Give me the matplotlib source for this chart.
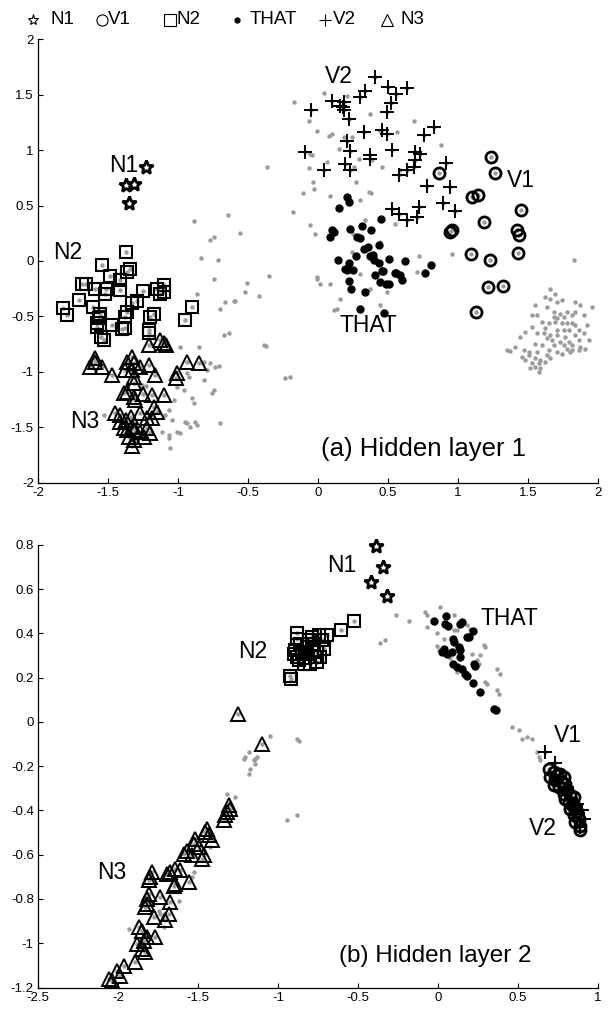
import matplotlib
matplotlib.use("Agg")
import matplotlib.pyplot as plt
from matplotlib.lines import Line2D

plt.rcParams['font.family'] = ['Liberation Sans', 'DejaVu Sans']
plt.rcParams['axes.unicode_minus'] = False

# ---------------- data : hidden layer 1 ----------------
n1_1_x = [-1.226, -1.369, -1.317, -1.353]
n1_1_y = [0.847, 0.682, 0.691, 0.526]

v1_1_x = [1.236, 1.266, 0.861, 1.100, 1.140, 1.450, 1.188, 0.945, 0.955, 1.421, 1.433,
          1.093, 1.231, 1.426, 1.211, 1.319, 1.129]
v1_1_y = [0.937, 0.793, 0.793, 0.577, 0.592, 0.463, 0.351, 0.261, 0.280, 0.277, 0.232,
          0.060, 0.012, 0.075, -0.234, -0.228, -0.459]

n2_1_x = [-1.371, -1.543, -1.341, -1.364, -1.489, -1.686, -1.655, -1.412, -1.591, -1.512,
          -1.524, -1.412, -1.250, -1.150, -1.103, -1.126, -1.103, -1.705, -1.824, -1.793,
          -1.607, -1.329, -1.293, -1.364, -1.376, -1.555, -1.555, -1.567, -1.198, -1.169,
          -0.900, -0.953, -1.579, -1.579, -1.471, -1.400, -1.376, -1.210, -1.205, -1.550,
          -1.526]
n2_1_y = [0.081, -0.032, -0.068, -0.099, -0.138, -0.204, -0.210, -0.174, -0.249, -0.249,
          -0.300, -0.258, -0.273, -0.249, -0.219, -0.294, -0.279, -0.348, -0.420, -0.489,
          -0.414, -0.378, -0.363, -0.459, -0.510, -0.474, -0.505, -0.519, -0.510, -0.474,
          -0.414, -0.534, -0.594, -0.564, -0.579, -0.618, -0.609, -0.649, -0.624, -0.685,
          -0.714]

that_1_x = [0.207, 0.219, 0.147, 0.452, 0.100, 0.111, 0.088, 0.226, 0.314, 0.379,
            0.279, 0.302, 0.326, 0.354, 0.433, 0.140, 0.274, 0.393, 0.219, 0.397,
            0.438, 0.509, 0.619, 0.207, 0.250, 0.457, 0.552, 0.761, 0.807, 0.195,
            0.224, 0.238, 0.338, 0.409, 0.464, 0.488, 0.504, 0.559, 0.583, 0.600,
            0.440, 0.302, 0.469, 0.371]
that_1_y = [0.577, 0.532, 0.477, 0.382, 0.277, 0.261, 0.216, 0.292, 0.313, 0.283,
            0.216, 0.211, 0.112, 0.126, 0.141, 0.013, 0.042, 0.051, -0.018, 0.013,
            -0.018, 0.021, 0.000, -0.077, -0.084, -0.090, -0.108, -0.105, -0.033, -0.069,
            -0.183, -0.249, -0.279, -0.129, -0.093, -0.204, -0.210, -0.108, -0.123, -0.174,
            -0.189, -0.435, -0.468, 0.042]

v2_1_x = [0.409, 0.338, 0.497, 0.559, 0.636, 0.297, 0.100, 0.183, 0.160, 0.175,
          0.524, -0.048, 0.183, 0.493, 0.219, 0.326, 0.457, 0.493, 0.826, 0.754,
          0.207, -0.091, 0.226, 0.369, 0.369, 0.529, 0.695, 0.731, 0.195, 0.231,
          0.040, 0.636, 0.683, 0.576, 0.695, 0.914, 0.779, 0.940, 0.890, 0.981,
          0.529, 0.576, 0.636, 0.707, 0.719]
v2_1_y = [1.658, 1.538, 1.568, 1.508, 1.562, 1.477, 1.448, 1.432, 1.400, 1.390,
          1.423, 1.358, 1.358, 1.342, 1.283, 1.162, 1.184, 1.148, 1.207, 1.141,
          1.087, 0.982, 0.991, 0.952, 0.922, 0.997, 0.982, 0.961, 0.877, 0.817,
          0.817, 0.817, 0.847, 0.772, 0.907, 0.883, 0.673, 0.667, 0.523, 0.448,
          0.472, 0.427, 0.367, 0.397, 0.487]

n3_1_x = [-1.131, -1.103, -1.086, -1.210, -1.591, -1.591, -1.626, -1.543, -1.471, -1.364,
          -1.329, -1.317, -1.376, -1.329, -1.317, -1.269, -1.210, -1.162, -1.007, -1.014,
          -0.936, -0.853, -1.317, -1.389, -1.364, -1.317, -1.310, -1.250, -1.186, -1.103,
          -1.169, -1.150, -1.448, -1.412, -1.412, -1.369, -1.336, -1.269, -1.221, -1.186,
          -1.389, -1.364, -1.329, -1.305, -1.269, -1.221, -1.198, -1.246, -1.353, -1.317,
          -1.329]
n3_1_y = [-0.714, -0.744, -0.759, -0.759, -0.879, -0.910, -0.955, -0.955, -1.030, -0.910,
          -0.865, -0.924, -0.985, -0.985, -1.045, -0.955, -0.940, -1.030, -1.015, -1.060,
          -0.910, -0.919, -1.105, -1.195, -1.180, -1.225, -1.255, -1.201, -1.210, -1.210,
          -1.315, -1.360, -1.369, -1.390, -1.450, -1.435, -1.405, -1.375, -1.420, -1.420,
          -1.510, -1.525, -1.495, -1.525, -1.541, -1.510, -1.555, -1.586, -1.586, -1.615,
          -1.669]

# other words (grey)
grey_1_x = [1.659, 1.695, 1.623, 1.659, 1.742, 1.707, 1.837, 1.873, 1.956, 1.552,
            1.635, 1.683, 1.730, 1.778, 1.837, 1.528, 1.564, 1.683, 1.707, 1.754,
            1.814, 1.897, 1.599, 1.647, 1.695, 1.742, 1.778, 1.814, 1.837, 1.921,
            1.528, 1.623, 1.707, 1.754, 1.790, 1.861, 1.480, 1.564, 1.611, 1.659,
            1.707, 1.766, 1.837, 1.897, 1.445, 1.635, 1.671, 1.730, 1.790, 1.861,
            1.933, 1.552, 1.599, 1.683, 1.754, 1.814, 1.873, 1.409, 1.349, 1.373,
            1.468, 1.504, 1.564, 1.647, 1.707, 1.778, 1.814, 1.861, 1.909, 1.456,
            1.504, 1.552, 1.587, 1.635, 1.742, 1.802, 1.480, 1.528, 1.576, 1.623,
            1.516, 1.552, 1.587, 1.576, 1.659,
            -0.169, -0.062, -0.007, -0.055, -0.067, -0.036, -0.031, -0.107, -0.179, -0.055,
            -0.019, -0.364, -0.888, -0.645, -0.555, -0.774, -0.745, -0.833, -0.714, -0.745,
            -0.352, -0.007, 0.041, 0.207, 0.076, 0.100, 0.183, 0.243, 0.374, 0.445,
            0.564, 0.683, 0.881, -0.043, 0.148, 0.291, 0.064, 0.386, 0.255, 0.457,
            0.588, 0.274, 0.362, 0.379, 0.088, 0.302, 0.250, 0.552, 0.338, 0.957,
            1.826, 0.445, 0.243, -0.007, 0.017, 0.088, 0.160, 0.112, 0.136, 0.302,
            0.374, 0.445, 0.493, 0.707, 0.719, -0.233, -0.198,
            -0.507, -0.519, -0.424, -0.864, -0.698, -0.662, -0.602, -0.590, -0.674, -0.638,
            -0.388, -0.371, -0.983, -0.852, -1.079, -0.817, -0.769, -0.793, -0.733, -0.710,
            -0.936, -0.924, -0.817, -1.007, -0.960, -0.745, -0.757, -1.031, -0.900, -0.888,
            -1.067, -1.090, -1.043, -0.948, -0.936, -0.912, -0.876, -0.864, -0.698, -1.114,
            -1.067, -1.067, -1.007, -0.983, -1.055, -1.257, -1.230, -1.531]
grey_1_y = [-0.249, -0.294, -0.324, -0.339, -0.354, -0.369, -0.369, -0.399, -0.414, -0.399,
            -0.414, -0.459, -0.474, -0.459, -0.459, -0.489, -0.489, -0.504, -0.519, -0.504,
            -0.489, -0.489, -0.549, -0.564, -0.549, -0.564, -0.564, -0.564, -0.579, -0.579,
            -0.594, -0.609, -0.624, -0.624, -0.624, -0.624, -0.639, -0.654, -0.654, -0.669,
            -0.669, -0.684, -0.669, -0.654, -0.684, -0.699, -0.714, -0.730, -0.730, -0.714,
            -0.714, -0.745, -0.760, -0.760, -0.760, -0.760, -0.775, -0.775, -0.805, -0.811,
            -0.805, -0.820, -0.820, -0.805, -0.820, -0.790, -0.805, -0.805, -0.790, -0.865,
            -0.850, -0.880, -0.895, -0.850, -0.835, -0.820, -0.895, -0.925, -0.925, -0.910,
            -0.970, -0.961, -0.970, -1.000, -0.880,
            1.438, 1.261, 1.177, 0.961, 0.841, 0.712, 0.652, 0.613, 0.441, 0.321,
            0.240, 0.847, 0.360, 0.411, 0.252, 0.192, 0.216, 0.027, 0.012, -0.159,
            -0.138, -0.159, 1.513, 1.492, 1.132, 1.147, 1.117, 1.117, 1.327, 1.177,
            1.162, 1.261, 1.048, 0.952, 1.012, 0.922, 0.892, 0.907, 0.847, 0.847,
            0.817, 0.712, 0.622, 0.613, 0.583, 0.547, 0.246, 0.336, 0.366, 0.066,
            0.006, 0.171, 0.081, -0.144, -0.204, -0.204, -0.339, -0.444, -0.429, -0.114,
            -0.249, -0.399, -0.279, -0.099, 0.042, -1.060, -1.045,
            -0.198, -0.279, -0.315, -0.294, -0.435, -0.369, -0.360, -0.360, -0.669, -0.654,
            -0.759, -0.768, -0.774, -0.774, -0.805, -0.910, -0.925, -0.985, -0.955, -0.949,
            -1.015, -1.045, -1.075, -1.135, -1.165, -1.165, -1.195, -1.255, -1.240, -1.285,
            -1.345, -1.390, -1.435, -1.450, -1.465, -1.495, -1.450, -1.480, -1.465, -1.540,
            -1.570, -1.600, -1.540, -1.555, -1.690, -1.120, -1.125, -1.390]

# ---------------- data : hidden layer 2 ----------------
n1_2_x = [-0.388, -0.346, -0.417, -0.319]
n1_2_y = [0.795, 0.701, 0.631, 0.570]

v1_2_x = [0.691, 0.722, 0.702, 0.743, 0.764, 0.785, 0.733, 0.774, 0.795, 0.722,
          0.754, 0.806, 0.785, 0.827, 0.847, 0.795, 0.816, 0.837, 0.858, 0.827,
          0.868, 0.847, 0.879, 0.858, 0.889, 0.889]
v1_2_y = [-0.211, -0.226, -0.249, -0.241, -0.234, -0.249, -0.264, -0.272, -0.279, -0.287,
          -0.294, -0.309, -0.324, -0.332, -0.339, -0.347, -0.362, -0.377, -0.385, -0.392,
          -0.407, -0.422, -0.437, -0.453, -0.468, -0.490]

n2_2_x = [-0.528, -0.605, -0.694, -0.882, -0.923, -0.919, -0.892, -0.902, -0.881, -0.871,
          -0.850, -0.819, -0.788, -0.746, -0.725, -0.715, -0.736, -0.756, -0.798, -0.840,
          -0.819, -0.788, -0.777, -0.756, -0.809, -0.861, -0.829, -0.767, -0.881]
n2_2_y = [0.455, 0.415, 0.392, 0.400, 0.207, 0.192, 0.324, 0.309, 0.294, 0.279,
          0.317, 0.339, 0.385, 0.392, 0.370, 0.332, 0.294, 0.271, 0.264, 0.264,
          0.309, 0.324, 0.354, 0.317, 0.370, 0.354, 0.287, 0.294, 0.377]

that_2_x = [-0.024, 0.052, 0.041, 0.062, 0.150, 0.139, 0.216, 0.181, 0.191, 0.091,
            0.097, 0.035, 0.056, 0.024, 0.129, 0.139, 0.139, 0.087, 0.093, 0.118,
            0.150, 0.170, 0.181, 0.222, 0.233, 0.216, 0.264, 0.347, 0.364]
that_2_y = [0.457, 0.478, 0.442, 0.433, 0.452, 0.445, 0.412, 0.385, 0.382, 0.377,
            0.362, 0.332, 0.309, 0.317, 0.339, 0.324, 0.294, 0.317, 0.264, 0.249,
            0.241, 0.219, 0.207, 0.264, 0.252, 0.177, 0.136, 0.060, 0.053]

v2_2_x = [0.670, 0.733, 0.899, 0.910, 0.889, 0.868, 0.806, 0.764]
v2_2_y = [-0.136, -0.185, -0.400, -0.437, -0.475, -0.370, -0.294, -0.256]

n3_2_x = [-1.252, -1.100, -1.309, -1.298, -1.319, -1.329, -1.340, -1.444, -1.454, -1.433,
          -1.413, -1.517, -1.527, -1.496, -1.569, -1.590, -1.538, -1.465, -1.475, -1.694,
          -1.673, -1.642, -1.611, -1.788, -1.798, -1.808, -1.642, -1.652, -1.559, -1.808,
          -1.819, -1.819, -1.829, -1.736, -1.673, -1.777, -1.704, -1.683, -1.871, -1.850,
          -1.819, -1.840, -1.767, -1.881, -1.850, -1.829, -1.892, -1.965, -2.006, -1.985,
          -2.038, -2.058]
n3_2_y = [0.035, -0.101, -0.377, -0.392, -0.407, -0.422, -0.445, -0.483, -0.498, -0.513,
          -0.535, -0.528, -0.551, -0.566, -0.581, -0.596, -0.603, -0.603, -0.618, -0.686,
          -0.679, -0.664, -0.671, -0.679, -0.701, -0.716, -0.732, -0.739, -0.724, -0.777,
          -0.799, -0.822, -0.837, -0.792, -0.815, -0.882, -0.897, -0.867, -0.928, -0.943,
          -0.973, -0.988, -0.973, -1.003, -1.026, -1.041, -1.086, -1.101, -1.124, -1.146,
          -1.169, -1.161]

grey_2_x = [-0.080, -0.069, 0.014, -0.261, -0.184, -0.361, -0.330, -0.069, -0.007, 0.004,
            0.035, 0.097, 0.118, 0.097, 0.181, 0.202, 0.285, 0.295, 0.264, 0.243,
            0.254, 0.295, 0.306, 0.368, 0.389, 0.368, 0.379, 0.077, -0.007, 0.212,
            0.118, 0.462, 0.504, 0.524, 0.556, 0.587, 0.618, -0.882, -0.871, -1.048,
            0.629, 0.639, -1.183, -1.131, -1.142, -1.215, -1.204, -1.152, -1.142, -1.173,
            -1.183, -1.319, -1.267, -0.944, -0.881, -1.933, -1.527, -1.538, -1.621, -1.715,
            -1.746, -1.736, -1.423]
grey_2_y = [0.498, 0.483, 0.520, 0.483, 0.455, 0.357, 0.370, 0.427, 0.342, 0.324,
            0.377, 0.415, 0.415, 0.483, 0.437, 0.422, 0.347, 0.339, 0.302, 0.279,
            0.264, 0.181, 0.170, 0.241, 0.219, 0.143, 0.128, 0.287, 0.400, 0.309,
            0.226, -0.023, -0.038, -0.075, -0.068, -0.075, -0.136, -0.075, -0.087, -0.065,
            -0.158, -0.174, -0.136, -0.158, -0.166, -0.166, -0.158, -0.173, -0.189, -0.211,
            -0.234, -0.324, -0.339, -0.445, -0.422, -0.935, -0.679, -0.701, -0.807, -0.928,
            -0.852, -0.867, -0.566]

words = ['N1', 'V1', 'N2', 'THAT', 'V2', 'N3']

GREY = '#9c9c9c'


def draw_layer(ax, sets, grey_x, grey_y):
    # every word is a grey dot, the six studied words get a marker on top
    allx = list(grey_x)
    ally = list(grey_y)
    for s in sets:
        allx += s[0]
        ally += s[1]
    ax.plot(allx, ally, ls='none', marker='o', ms=2.2, mfc=GREY, mec=GREY, zorder=1)

    n1, v1, n2, that, v2, n3 = sets
    ax.plot(n3[0], n3[1], ls='none', marker='^', ms=10.5, mfc='none', mec='k', mew=1.4, zorder=2)
    ax.plot(n2[0], n2[1], ls='none', marker='s', ms=8.5, mfc='none', mec='k', mew=1.5, zorder=2)
    ax.plot(v1[0], v1[1], ls='none', marker='o', ms=8, mfc='none', mec='k', mew=2.0, zorder=2)
    ax.plot(v2[0], v2[1], ls='none', marker='+', ms=10, mec='k', mew=1.4, zorder=3)
    ax.plot(that[0], that[1], ls='none', marker='o', ms=5, mfc='k', mec='k', zorder=3)
    ax.plot(n1[0], n1[1], ls='none', marker='*', ms=10, mfc='white', mec='k', mew=2.0,
            zorder=3, clip_on=False)


def style_axes(ax):
    ax.spines['top'].set_visible(False)
    ax.spines['right'].set_visible(False)
    ax.spines['left'].set_linewidth(0.9)
    ax.spines['bottom'].set_linewidth(0.9)
    ax.tick_params(direction='in', length=3.5, width=0.8, labelsize=9.5, pad=3)
    ax.xaxis.set_major_formatter(plt.FuncFormatter(lambda v, p: '%g' % round(v, 2)))
    ax.yaxis.set_major_formatter(plt.FuncFormatter(lambda v, p: '%g' % round(v, 2)))


fig = plt.figure(figsize=(6.16, 10.09), dpi=100)

# ---- panel (a)
ax1 = fig.add_axes([0.0617, 0.5217, 0.9091, 0.4393])
draw_layer(ax1, [(n1_1_x, n1_1_y), (v1_1_x, v1_1_y), (n2_1_x, n2_1_y),
                 (that_1_x, that_1_y), (v2_1_x, v2_1_y), (n3_1_x, n3_1_y)],
           grey_1_x, grey_1_y)
ax1.set_xlim(-2, 2)
ax1.set_ylim(-2, 2)
ax1.set_xticks([-2, -1.5, -1, -0.5, 0, 0.5, 1, 1.5, 2])
ax1.set_yticks([-2, -1.5, -1, -0.5, 0, 0.5, 1, 1.5, 2])
style_axes(ax1)
lab = dict(fontsize=16.5, ha='center', va='center')
ax1.text(-1.39, 0.862, 'N1', **lab)
ax1.text(-1.787, 0.074, 'N2', **lab)
ax1.text(0.149, 1.664, 'V2', **lab)
ax1.text(1.449, 0.727, 'V1', **lab)
ax1.text(0.359, -0.584, 'THAT', **lab)
ax1.text(-1.664, -1.449, 'N3', **lab)
ax1.text(0.756, -1.70, '(a) Hidden layer 1', fontsize=18.5, ha='center', va='center')

# ---- panel (b)
ax2 = fig.add_axes([0.0617, 0.0213, 0.9091, 0.4386])
draw_layer(ax2, [(n1_2_x, n1_2_y), (v1_2_x, v1_2_y), (n2_2_x, n2_2_y),
                 (that_2_x, that_2_y), (v2_2_x, v2_2_y), (n3_2_x, n3_2_y)],
           grey_2_x, grey_2_y)
ax2.set_xlim(-2.5, 1)
ax2.set_ylim(-1.2, 0.8)
ax2.set_xticks([-2.5, -2, -1.5, -1, -0.5, 0, 0.5, 1])
ax2.set_yticks([-1.2, -1, -0.8, -0.6, -0.4, -0.2, 0, 0.2, 0.4, 0.6, 0.8])
style_axes(ax2)
ax2.text(-0.601, 0.705, 'N1', **lab)
ax2.text(0.446, 0.467, 'THAT', **lab)
ax2.text(0.811, -0.062, 'V1', **lab)
ax2.text(-1.158, 0.32, 'N2', **lab)
ax2.text(0.655, -0.483, 'V2', **lab)
ax2.text(-2.039, -0.678, 'N3', **lab)
ax2.text(-0.017, -1.056, '(b) Hidden layer 2', fontsize=17.5, ha='center', va='center')

# ---- legend row along the top
leg_marker = [dict(marker='*', ms=8, mfc='white', mec='k', mew=0.8),
              dict(marker='o', ms=8, mfc='none', mec='k', mew=0.8),
              dict(marker='s', ms=8, mfc='none', mec='k', mew=0.8),
              dict(marker='o', ms=3.5, mfc='k', mec='k'),
              dict(marker='+', ms=9, mec='k', mew=0.8),
              dict(marker='^', ms=9, mfc='none', mec='k', mew=0.8)]
mark_px = [33, 102, 170, 237, 325, 387]
text_px = [50, 108, 177, 250, 333, 400]
ly = 1 - 20 / 1009.0
for w, m, mx, tx in zip(words, leg_marker, mark_px, text_px):
    fig.add_artist(Line2D([mx / 616.0], [ly], transform=fig.transFigure, ls='none', **m))
    fig.text(tx / 616.0, ly, w, fontsize=13.5, ha='left', va='center')

fig.savefig('out.png', dpi=100)
